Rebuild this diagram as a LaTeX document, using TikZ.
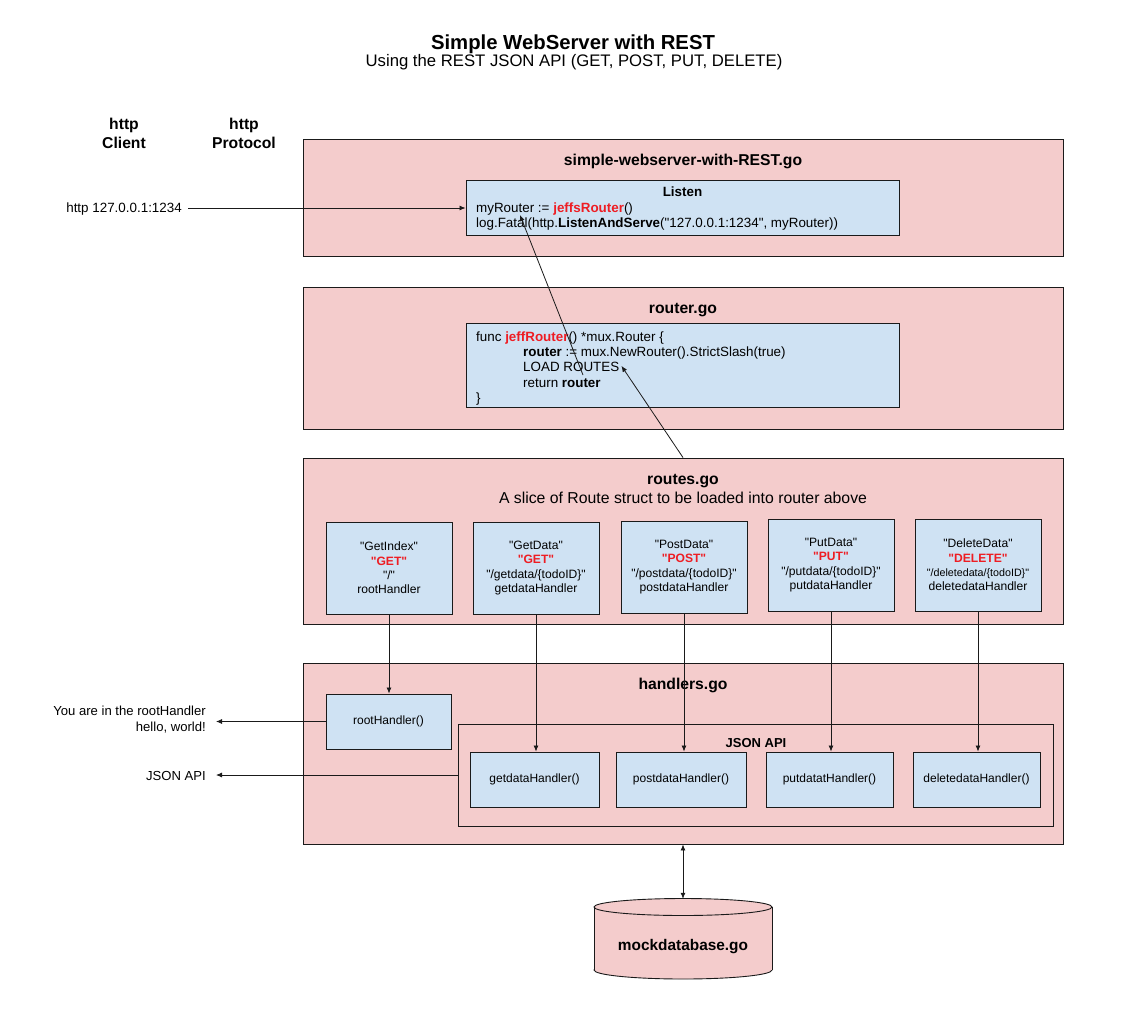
\documentclass[tikz,border=0pt]{standalone}
\usepackage{fontspec}
\setmainfont{Liberation Sans}[Ligatures=TeXOff]
\usetikzlibrary{arrows.meta,calc}

\definecolor{filepink}{HTML}{F4CCCC}
\definecolor{codeblue}{HTML}{CFE2F3}
\definecolor{hot}{HTML}{EE1D23}
\definecolor{ink}{HTML}{1A1A1A}

\newcommand{\fsz}[2]{\fontsize{#1}{#2}\selectfont}
\newcommand{\hl}[1]{\textcolor{hot}{\bfseries #1}}

\tikzset{
  filebox/.style={draw=ink, fill=filepink, line width=0.9pt, inner sep=0,
                  minimum width=760, minimum height=#1},
  codebox/.style={draw=ink, fill=codeblue, line width=0.9pt, inner sep=0},
  routebox/.style={codebox, minimum width=126, minimum height=92, align=center,
                   font=\fsz{12.1}{14.4}},
  handlerbox/.style={codebox, minimum height=55, font=\fsz{12}{14}},
  txt/.style={inner sep=0, font=\fsz{13.4}{16}},
  headtxt/.style={inner sep=0, font=\bfseries\fsz{15.7}{18.5}},
  tip/.style={-{Latex[length=6pt,width=5pt]}, line width=0.8pt, draw=ink},
  bothtips/.style={{Latex[length=6pt,width=5pt]}-{Latex[length=6pt,width=5pt]},
                   line width=0.8pt, draw=ink},
}

\begin{document}
\begin{tikzpicture}[x=1pt,y=-1pt]
\useasboundingbox[fill=white] (0,0) rectangle (1121,1012);

% heading
\node[anchor=base, inner sep=0, font=\bfseries\fsz{20.3}{24}] (title) at (573,49) {Simple WebServer with REST};
\node[anchor=base, inner sep=0, font=\fsz{16.7}{20}] (subtitle) at (574,66) {Using the REST JSON API (GET, POST, PUT, DELETE)};

% column headers
\node[headtxt, anchor=base] (cli1) at (124,129.5) {http};
\node[headtxt, anchor=base] (cli2) at (124,148) {Client};
\node[headtxt, anchor=base] (pro1) at (244,129.5) {http};
\node[headtxt, anchor=base] (pro2) at (244,148) {Protocol};

% file containers
\node[filebox=117] (srv) at (683,197.5) {};
\node[filebox=142] (rtr) at (683,358) {};
\node[filebox=166] (rts) at (683,541) {};
\node[filebox=181] (hdl) at (683,753.5) {};

\node[headtxt, anchor=base] (srvT) at (683,165.5) {simple-webserver-with-REST.go};
\node[headtxt, anchor=base] (rtrT) at (683,313.5) {router.go};
\node[headtxt, anchor=base] (rtsT) at (683,484.5) {routes.go};
\node[anchor=base, inner sep=0, font=\fsz{15.8}{18.5}] (rtsS) at (683,503.5) {A slice of Route struct to be loaded into router above};
\node[headtxt, anchor=base] (hdlT) at (683,689.5) {handlers.go};

% main: Listen
\node[codebox, minimum width=433, minimum height=55] (lis) at (682.5,207.5) {};
\node[txt, anchor=base, font=\bfseries\fsz{13.4}{16}] (lisT) at (682.5,196) {Listen};
\node[txt, anchor=base west] (lis1) at (476,212.5) {myRouter := \hl{jeffsRouter}()};
\node[txt, anchor=base west] (lis2) at (476,227.5) {log.Fatal(http.\textbf{ListenAndServe}("127.0.0.1:1234", myRouter))};

% router function
\node[codebox, minimum width=433, minimum height=84] (rtb) at (682.5,365) {};
\node[txt, anchor=base west] (fn1) at (476,341) {func \hl{jeffRouter}() *mux.Router \{};
\node[txt, anchor=base west] (fn2) at (523,356) {\textbf{router} := mux.NewRouter().StrictSlash(true)};
\node[txt, anchor=base west] (ldr) at (523,371.5) {LOAD ROUTES};
\node[txt, anchor=base west] (fn4) at (523,387) {return \textbf{router}};
\node[txt, anchor=base west] (fn5) at (476,402) {\}};

% route table
\node[routebox] (r1) at (389,568) {"GetIndex"\\\hl{"GET"}\\"/"\\rootHandler};
\node[routebox] (r2) at (536,568) {"GetData"\\\hl{"GET"}\\"/getdata/\{todoID\}"\\getdataHandler};
\node[routebox] (r3) at (684,567) {"PostData"\\\hl{"POST"}\\"/postdata/\{todoID\}"\\postdataHandler};
\node[routebox] (r4) at (831,565) {"PutData"\\\hl{"PUT"}\\"/putdata/\{todoID\}"\\putdataHandler};
\node[routebox] (r5) at (978,565) {"DeleteData"\\\hl{"DELETE"}\\{\fsz{10.7}{14.4}"/deletedata/\{todoID\}"}\\deletedataHandler};

% handlers
\node[handlerbox, minimum width=125] (rh) at (388.5,721.5) {rootHandler()};
\node[draw=ink, fill=filepink, line width=0.9pt, inner sep=0, minimum width=595, minimum height=102] (jc) at (755.5,775) {};
\node[txt, anchor=base, font=\bfseries\fsz{13}{16}] (jcT) at (756,747) {JSON API};
\node[handlerbox, minimum width=129] (h1) at (534.5,779.5) {getdataHandler()};
\node[handlerbox, minimum width=130] (h2) at (681,779.5) {postdataHandler()};
\node[handlerbox, minimum width=127] (h3) at (829.5,779.5) {putdatatHandler()};
\node[handlerbox, minimum width=127] (h4) at (976.5,779.5) {deletedataHandler()};

% database
\node[minimum width=178, minimum height=80, inner sep=0] (db) at (683,939) {};
\draw[draw=ink, line width=0.9pt, fill=filepink] (683,970) ellipse [x radius=89, y radius=9];
\fill[filepink] (594,907) rectangle (772,970);
\draw[draw=ink, line width=0.9pt] (594,907) -- (594,970) (772,907) -- (772,970);
\draw[draw=ink, line width=0.9pt, fill=filepink] (683,907) ellipse [x radius=89, y radius=8.5];
\node[anchor=base, inner sep=0, font=\bfseries\fsz{15.4}{18}] (dbT) at (683,950.5) {mockdatabase.go};

% client side texts
\node[txt, anchor=base east] (url) at (182,212.5) {http 127.0.0.1:1234};
\node[txt, anchor=base east, font=\fsz{13.1}{16}] (out1) at (206,715.7) {You are in the rootHandler};
\node[txt, anchor=base east, font=\fsz{13.1}{16}] (out2) at (206,731.5) {hello, world!};
\node[txt, anchor=base east, font=\fsz{13.1}{16}] (out3) at (206,780.5) {JSON API};

% connectors
\coordinate (urlend) at (188,208);
\draw[tip] (urlend) -- (urlend -| lis.west);

\coordinate (ldsrc) at (583,375);
\coordinate (lftip) at (520,215);
\draw[tip] (ldsrc) -- (lftip);
\draw[tip] (rts.north) -- ($(ldr.east)+(2,-1)$);

\draw[tip] (r1.south) -- (r1.south |- rh.north);
\draw[tip] (r2.south) -- (r2.south |- h1.north);
\draw[tip] (r3.south) -- (r3.south |- h2.north);
\draw[tip] (r4.south) -- (r4.south |- h3.north);
\draw[tip] (r5.south) -- (r5.south |- h4.north);

\coordinate (o1) at (216,721.5);
\coordinate (o2) at (216,775);
\draw[tip] (rh.west) -- (o1);
\draw[tip] (jc.west) -- (o2);

\draw[bothtips] (hdl.south) -- (db.north);
\end{tikzpicture}
\end{document}
